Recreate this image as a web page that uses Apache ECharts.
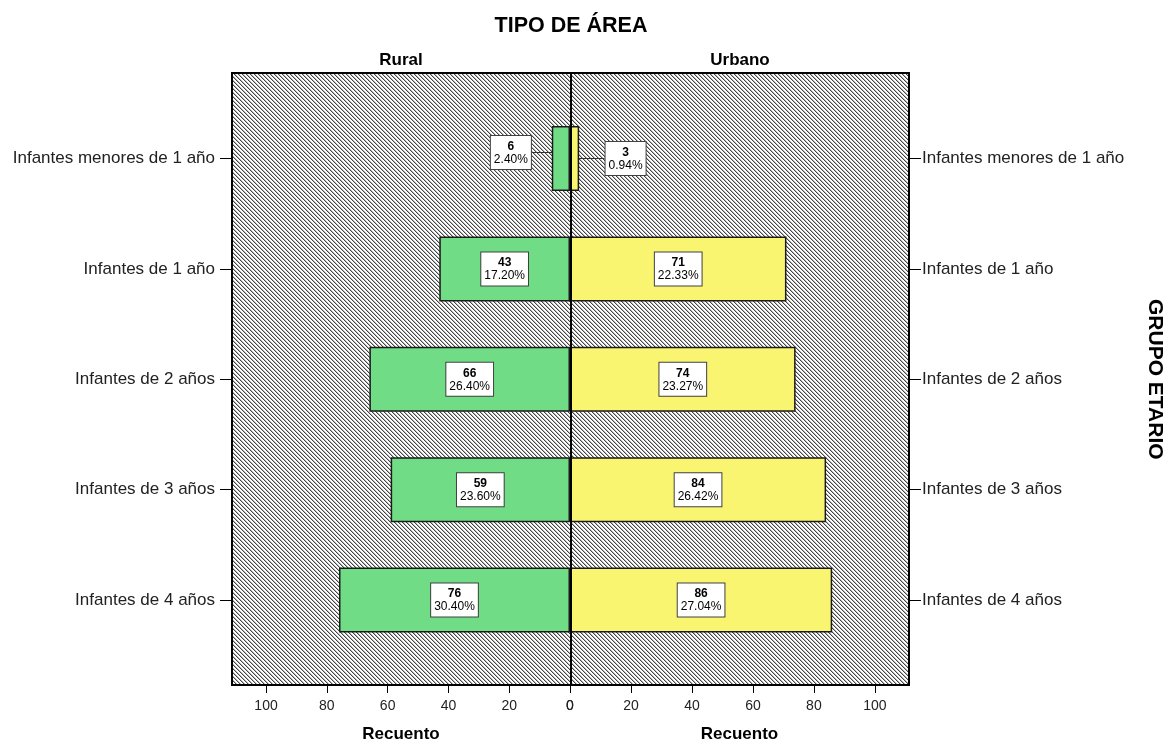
<!DOCTYPE html>
<html>
<head>
<meta charset="utf-8">
<title>Grupo etario por tipo de área</title>
<script src="https://cdn.jsdelivr.net/npm/echarts@6/dist/echarts.min.js"></script>
<style>
	html, body { margin: 0; padding: 0; background: #fff; }
	#chart { width: 1173px; height: 744px; }
</style>
</head>
<body>
<div id="chart"></div>
<script>
// datos
var categories = ['Infantes menores de 1 año', 'Infantes de 1 año', 'Infantes de 2 años', 'Infantes de 3 años', 'Infantes de 4 años'];
var ruralCount = [6, 43, 66, 59, 76];
var ruralPct = [2.40, 17.20, 26.40, 23.60, 30.40];
var urbanoCount = [3, 71, 74, 84, 86];
var urbanoPct = [0.94, 22.33, 23.27, 26.42, 27.04];
var xTicks = [0, 20, 40, 60, 80, 100];
var xMax = 111.2;

var FONT = '"Liberation Sans", Arial, sans-serif';

/*
 * trama diagonal del fondo (estilo SPSS)
 */
function makeHatch() {
	var cv = document.createElement('canvas');
	cv.width = 4;
	cv.height = 4;
	var ctx = cv.getContext('2d');
	ctx.fillStyle = '#ffffff';
	ctx.fillRect(0, 0, 4, 4);
	for (var i = 0; i < 4; i++) {
		ctx.fillStyle = '#444444';
		ctx.fillRect(i, i, 1, 1);
		ctx.fillStyle = '#b8b8b8';
		ctx.fillRect((i + 1) % 4, i, 1, 1);
	}
	return { image: cv, repeat: 'repeat' };
}

function buildData(counts, pcts) {
	return counts.map(function(v, i) {
		var item = { value: v, pct: pcts[i] };
		if (i === 0) {
			item.labelLine = { show: true };
		}
		return item;
	});
}

function labelFormatter(p) {
	return '{c|' + p.value + '}\n{p|' + p.data.pct.toFixed(2) + '%}';
}

var labelStyle = {
	show: true,
	position: 'inside',
	formatter: labelFormatter,
	backgroundColor: '#ffffff',
	borderColor: '#404040',
	borderWidth: 1,
	padding: [4, 3, 3, 3],
	rich: {
		c: { fontFamily: FONT, fontSize: 12, fontWeight: 'bold', color: '#000', lineHeight: 13, align: 'center' },
		p: { fontFamily: FONT, fontSize: 12, color: '#000', lineHeight: 13, align: 'center' }
	}
};

var tickLabel = { fontFamily: FONT, fontSize: 14, color: '#222', margin: 14 };
var catLabel = { fontFamily: FONT, fontSize: 17, color: '#222', margin: 17 };
var tickStyle = { color: '#000', width: 1 };

// el marco va de y=73 a y=685; las bandas de categoría quedan dentro
var gridTop = 103.3;
var gridH = 552;
var xOffset = 685 - gridTop - gridH;

var chart = echarts.init(document.getElementById('chart'));

var option = {
	animation: false,
	textStyle: { fontFamily: FONT },
	title: [
		{ text: 'TIPO DE ÁREA', left: 566, top: 10, textAlign: 'center',
			textStyle: { fontSize: 21.5, fontWeight: 'bold', color: '#000' } },
		{ text: 'Rural', left: 396, top: 47, textAlign: 'center',
			textStyle: { fontSize: 17, fontWeight: 'bold', color: '#000' } },
		{ text: 'Urbano', left: 735, top: 47, textAlign: 'center',
			textStyle: { fontSize: 17, fontWeight: 'bold', color: '#000' } }
	],
	grid: [
		// fondo con trama y marco
		{ left: 232, top: 73, width: 677, height: 612, show: true, outerBoundsMode: 'none',
			backgroundColor: makeHatch(), borderColor: '#000', borderWidth: 2 },
		{ left: 232, top: gridTop, width: 338, height: gridH, outerBoundsMode: 'none' },
		{ left: 570, top: gridTop, width: 339, height: gridH, outerBoundsMode: 'none' }
	],
	xAxis: [
		{ gridIndex: 0, type: 'value', min: -xMax, max: xMax, show: false,
			axisLine: { onZero: false } },
		{ gridIndex: 1, type: 'value', inverse: true, min: 0, max: xMax, offset: xOffset,
			axisLine: { show: false, onZero: false },
			axisTick: { show: true, length: 8, lineStyle: tickStyle, customValues: xTicks },
			axisLabel: Object.assign({ customValues: xTicks }, tickLabel),
			splitLine: { show: false },
			name: 'Recuento', nameLocation: 'middle', nameGap: 41,
			nameTextStyle: { fontFamily: FONT, fontSize: 17, fontWeight: 'bold', color: '#000' } },
		{ gridIndex: 2, type: 'value', min: 0, max: xMax, offset: xOffset,
			axisLine: { show: false, onZero: false },
			axisTick: { show: true, length: 8, lineStyle: tickStyle, customValues: xTicks },
			axisLabel: Object.assign({ customValues: xTicks }, tickLabel),
			splitLine: { show: false },
			name: 'Recuento', nameLocation: 'middle', nameGap: 41,
			nameTextStyle: { fontFamily: FONT, fontSize: 17, fontWeight: 'bold', color: '#000' } }
	],
	yAxis: [
		// línea central en x = 0
		{ gridIndex: 0, type: 'value', min: 0, max: 1, z: 5,
			axisLine: { show: true, onZero: true, lineStyle: { color: '#000', width: 2 } },
			axisTick: { show: false }, axisLabel: { show: false }, splitLine: { show: false } },
		{ gridIndex: 1, type: 'category', data: categories, inverse: true, position: 'left',
			axisLine: { show: false, onZero: false },
			axisTick: { show: true, alignWithLabel: true, length: 12, lineStyle: tickStyle },
			axisLabel: catLabel },
		{ gridIndex: 2, type: 'category', data: categories, inverse: true, position: 'right',
			axisLine: { show: false, onZero: false },
			axisTick: { show: true, alignWithLabel: true, length: 12, lineStyle: tickStyle },
			axisLabel: Object.assign({}, catLabel, { margin: 13 }),
			name: 'GRUPO ETARIO', nameLocation: 'middle', nameGap: 235, nameRotate: -90,
			nameTextStyle: { fontFamily: FONT, fontSize: 21, fontWeight: 'bold', color: '#000' } }
	],
	series: [
		{
			name: 'Rural',
			type: 'bar',
			xAxisIndex: 1,
			yAxisIndex: 1,
			barWidth: 65,
			data: buildData(ruralCount, ruralPct),
			itemStyle: { color: '#70dd86', borderColor: '#1a1a1a', borderWidth: 1.5 },
			label: labelStyle,
			labelLine: { show: false, lineStyle: { color: '#333', width: 1 } },
			labelLayout: function(p) {
				if (p.dataIndex === 0) return { dx: -50, dy: -6 };
			}
		},
		{
			name: 'Urbano',
			type: 'bar',
			xAxisIndex: 2,
			yAxisIndex: 2,
			barWidth: 65,
			data: buildData(urbanoCount, urbanoPct),
			itemStyle: { color: '#f9f571', borderColor: '#1a1a1a', borderWidth: 1.5 },
			label: labelStyle,
			labelLine: { show: false, lineStyle: { color: '#333', width: 1 } },
			labelLayout: function(p) {
				if (p.dataIndex === 0) return { dx: 51, dy: 0 };
			}
		}
	]
};

chart.setOption(option);

window.addEventListener('resize', function() {
	chart.resize();
});
</script>
</body>
</html>
